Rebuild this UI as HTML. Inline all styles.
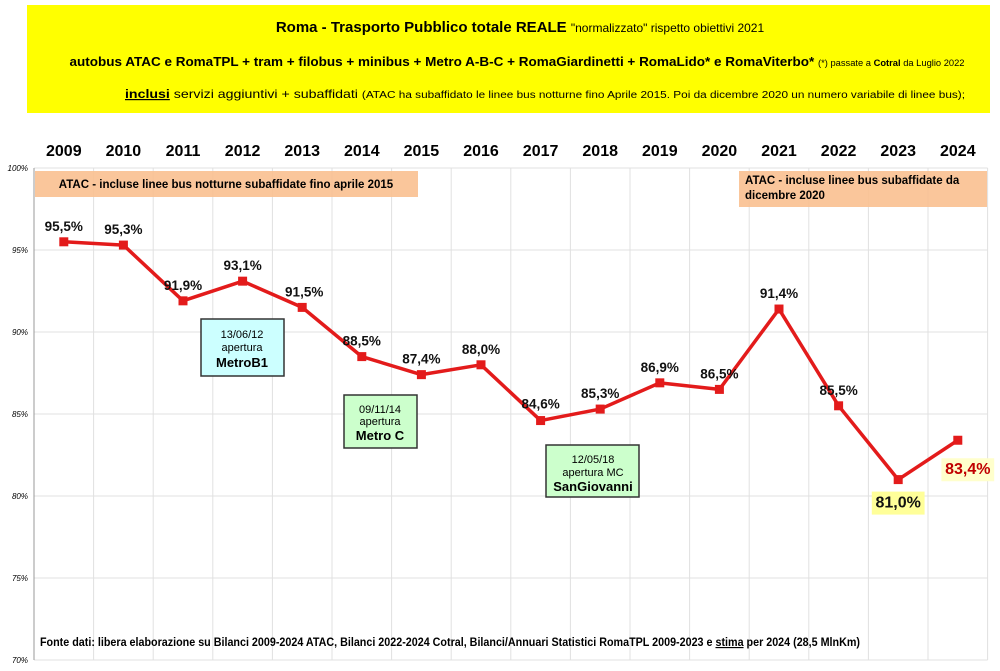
<!DOCTYPE html>
<html><head><meta charset="utf-8"><style>
body{margin:0;background:#fff;width:1000px;height:666px;overflow:hidden;font-family:"Liberation Sans",sans-serif}
</style></head><body>
<svg width="1000" height="666" viewBox="0 0 1000 666" id="svg" font-family="Liberation Sans, sans-serif">
<rect x="27" y="5" width="963" height="108" fill="#ffff00"/>
<text x="520" y="32" text-anchor="middle" font-size="15" font-weight="bold">Roma - Trasporto Pubblico totale REALE <tspan font-weight="normal" font-size="12">"normalizzato" rispetto obiettivi 2021</tspan></text>
<text x="517" y="66" text-anchor="middle" font-size="13" font-weight="bold" textLength="895" lengthAdjust="spacingAndGlyphs">autobus ATAC e RomaTPL + tram + filobus + minibus + Metro A-B-C + RomaGiardinetti + RomaLido* e RomaViterbo* <tspan font-size="9" font-weight="normal">(*) passate a <tspan font-weight="bold">Cotral</tspan> da Luglio 2022</tspan></text>
<text x="545" y="98" text-anchor="middle" font-size="12" textLength="840" lengthAdjust="spacingAndGlyphs"><tspan font-weight="bold" text-decoration="underline">inclusi</tspan> servizi aggiuntivi + subaffidati <tspan font-size="10">(ATAC ha subaffidato le linee bus notturne fino Aprile 2015. Poi da dicembre 2020 un numero variabile di linee bus);</tspan></text>
<g id="grid"></g>
<rect x="35" y="171" width="383" height="26" fill="#fac090" opacity="0.9"/>
<text x="226" y="188" text-anchor="middle" font-size="11.5" font-weight="bold">ATAC - incluse linee bus notturne subaffidate fino aprile 2015</text>
<rect x="739" y="171" width="248" height="36" fill="#fac090" opacity="0.9"/>
<text x="745" y="184" font-size="11.5" font-weight="bold">ATAC - incluse linee bus subaffidate da<tspan x="745" dy="15">dicembre 2020</tspan></text>
<g id="marks"></g>
<g><rect x="201" y="319" width="83" height="57" fill="#ccffff" stroke="#333" stroke-width="1.5"/>
<text x="242" y="338" text-anchor="middle" font-size="11">13/06/12</text><text x="242" y="351" text-anchor="middle" font-size="11">apertura</text><text x="242" y="367" text-anchor="middle" font-size="13" font-weight="bold">MetroB1</text></g>
<g><rect x="344" y="395" width="73" height="53" fill="#ccffcc" stroke="#333" stroke-width="1.5"/>
<text x="380" y="413" text-anchor="middle" font-size="11">09/11/14</text><text x="380" y="425" text-anchor="middle" font-size="11">apertura</text><text x="380" y="440" text-anchor="middle" font-size="13" font-weight="bold">Metro C</text></g>
<g><rect x="546" y="445" width="93" height="52" fill="#ccffcc" stroke="#333" stroke-width="1.5"/>
<text x="593" y="463" text-anchor="middle" font-size="11">12/05/18</text><text x="593" y="476" text-anchor="middle" font-size="11">apertura MC</text><text x="593" y="491" text-anchor="middle" font-size="13" font-weight="bold">SanGiovanni</text></g>
<text x="40" y="646" font-size="11.5" font-weight="bold" textLength="820" lengthAdjust="spacingAndGlyphs">Fonte dati: libera elaborazione su Bilanci 2009-2024 ATAC, Bilanci 2022-2024 Cotral, Bilanci/Annuari Statistici RomaTPL 2009-2023 e <tspan text-decoration="underline">stima</tspan> per 2024 (28,5 MlnKm)</text>
</svg>
<script>
const years=["2009","2010","2011","2012","2013","2014","2015","2016","2017","2018","2019","2020","2021","2022","2023","2024"];
const values=[95.5,95.3,91.9,93.1,91.5,88.5,87.4,88.0,84.6,85.3,86.9,86.5,91.4,85.5,81.0,83.4];
const valueLabels=["95,5%","95,3%","91,9%","93,1%","91,5%","88,5%","87,4%","88,0%","84,6%","85,3%","86,9%","86,5%","91,4%","85,5%","81,0%","83,4%"];
const yTicks=[70,75,80,85,90,95,100];
const NS="http://www.w3.org/2000/svg";
const x0=34,cw=59.6,yTop=168,yBot=660,yMin=70,yMax=100;
const X=i=>x0+cw*(i+0.5);
const Y=v=>yBot-(v-yMin)/(yMax-yMin)*(yBot-yTop);
function mk(tag,attrs,parent,text){const e=document.createElementNS(NS,tag);for(const k in attrs)e.setAttribute(k,attrs[k]);if(text!=null)e.textContent=text;parent.appendChild(e);return e;}
const grid=document.getElementById('grid'),marks=document.getElementById('marks');
yTicks.forEach(t=>{
 const l=mk('line',{x1:x0,x2:x0+cw*years.length,y1:Y(t),y2:Y(t),stroke:'#e0e0e0'},grid);
 
 
 const tx=mk('text',{x:28,y:Y(t)+3,'text-anchor':'end','font-size':8,'font-style':'italic'},grid,t+'%');
 
 
});
for(let i=0;i<=years.length;i++){
 const l=mk('line',{x1:x0+cw*i,x2:x0+cw*i,y1:yTop,y2:yBot,stroke:i==0?'#999':'#e0e0e0'},grid);
 
 
}
years.forEach((y,i)=>{
 const t=mk('text',{x:X(i),y:156,'text-anchor':'middle','font-size':16,'font-weight':'bold'},grid,y);
 
 
});
const line=mk('polyline',{points:values.map((v,i)=>X(i)+','+Y(v)).join(' '),fill:'none',stroke:'#e31b1b','stroke-width':3.5,'stroke-linejoin':'round'},marks);


values.forEach((v,i)=>{
 const r=mk('rect',{x:X(i)-4.5,y:Y(v)-4.5,width:9,height:9,fill:'#e31b1b'},marks);
 
 
 let dx=0,dy=-11,fill='#111',size=13.5;
 if(i==4){dx=2;dy=-11;}
 if(i==8){dy=-12;}
 if(i==14){dy=28;size=16;}
 if(i==15){dx=10;dy=34;size=16;fill='#c00000';}
 if(i>=14){
  const w=size*3.3;
  const bg=mk('rect',{x:X(i)+dx-w/2,y:Y(v)+dy-size,width:w,height:size+7,fill:i==14?'#ffff99':'#ffffcc'},marks);
  
  
 }
 const t=mk('text',{x:X(i)+dx,y:Y(v)+dy,'text-anchor':'middle','font-size':size,'font-weight':'bold',fill:fill},marks,valueLabels[i]);
 
 
});
</script>
</body></html>
